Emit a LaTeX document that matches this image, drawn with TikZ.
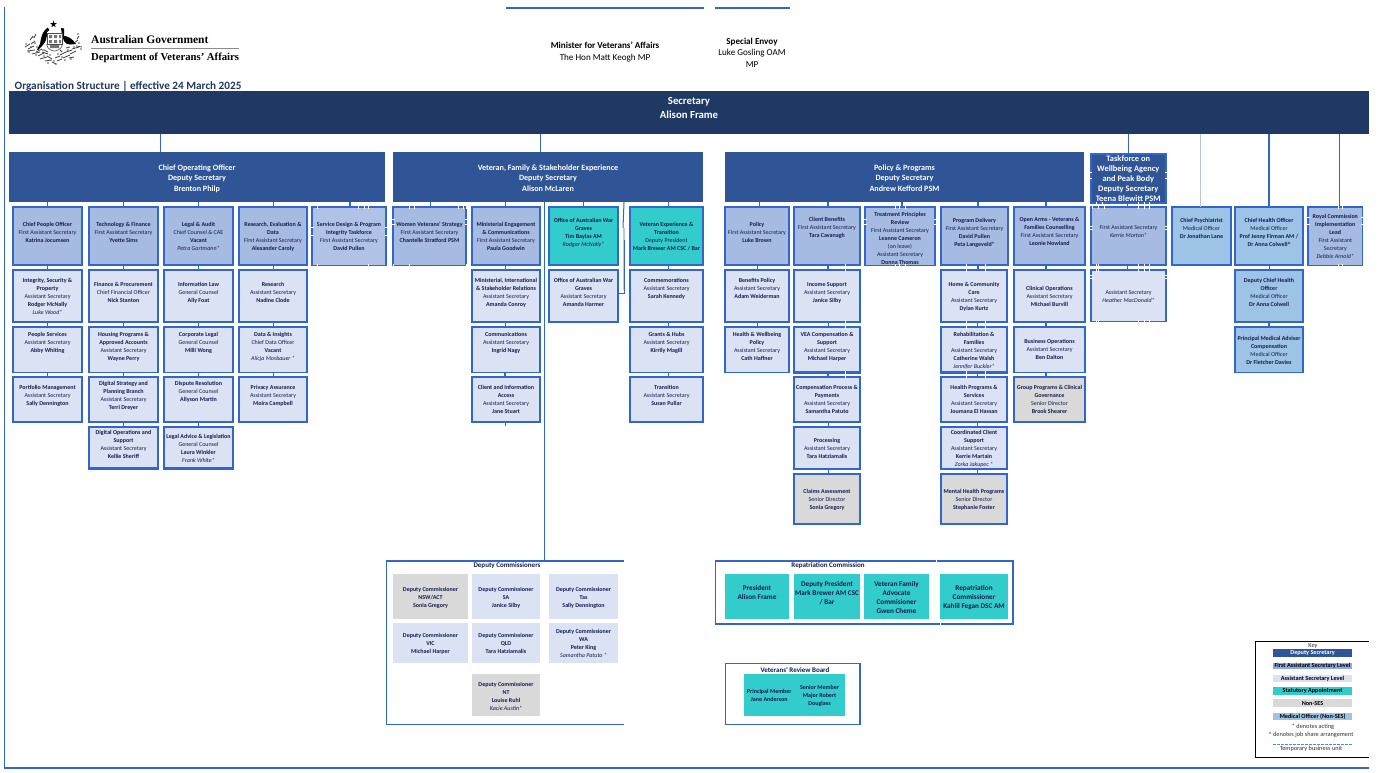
\documentclass[tikz,border=0pt]{standalone}
\usepackage{fontspec}
\setmainfont{Carlito}
\newfontfamily\serifhead{Liberation Serif}
\definecolor{lb}{HTML}{3366CC}
\definecolor{pale}{HTML}{B4C7E7}
\definecolor{navy}{HTML}{1F3864}
\definecolor{depb}{HTML}{2F5597}
\definecolor{fasf}{HTML}{A6BBE2}
\definecolor{tmpf}{HTML}{B0C3E6}
\definecolor{asf}{HTML}{DAE2F3}
\definecolor{statf}{HTML}{33CCCC}
\definecolor{nonf}{HTML}{D9D9D9}
\definecolor{medf}{HTML}{9DC3E6}
\definecolor{tx}{HTML}{141C50}
\newcommand\bx[8]{%
  \pgfmathsetlengthmacro\myBw{(#5-#3)*1pt}%
  \pgfmathsetlengthmacro\myBh{(#6-#4)*1pt}%
  \pgfmathsetmacro\myDy{#7-#4}%
  \node[#2,anchor=north west,inner sep=0pt,outer sep=0pt,minimum width=\myBw,minimum height=\myBh] (#1) at (#3,#4)
    {\parbox[c][\myBh][t]{\myBw}{\vspace*{\dimexpr\myDy pt+.25em+.9pt-.7\baselineskip\relax}\centering\strut #8\par}};}
\newcommand\dn[4][1]{\draw[cn,line width=#1pt] ([xshift=#4pt]#2.south) -- ([xshift=#4pt]#2.south |- #3.north);}
\newcommand\nv[3]{\foreach \xx in {#1}{\foreach \yy in {#2}{\draw[white,line width=.7pt] (\xx,\yy-#3) -- (\xx,\yy+#3);}}}
\newcommand\nh[3]{\foreach \yy in {#1}{\foreach \xx in {#2}{\draw[white,line width=.7pt] (\xx-#3,\yy) -- (\xx+#3,\yy);}}}
\newcommand\B[1]{\textbf{#1}}
\tikzset{
  x=1pt,y=-1pt,
  lbl/.style={font=\fontsize{6}{8}\selectfont,text=tx},
  thk/.style={line width=2.4pt},
  thn/.style={line width=1.6pt},
  fasb/.style={lbl,draw=lb,fill=fasf,thk},
  tmpb/.style={lbl,draw=lb,fill=tmpf,thn},
  asb/.style={lbl,draw=lb,fill=asf,thk},
  asn/.style={lbl,draw=lb,fill=asf,thn},
  statb/.style={lbl,draw=lb,fill=statf,thk},
  nonb/.style={lbl,draw=lb,fill=nonf,thk},
  medb/.style={lbl,draw=lb,fill=medf,thk},
  depbox/.style={fill=depb,font=\fontsize{8.1}{10.5}\selectfont,text=white},
  dc/.style={lbl,fill=asf},
  dg/.style={lbl,fill=nonf},
  rc/.style={fill=statf,font=\fontsize{7.2}{9}\selectfont,text=tx},
  vr/.style={lbl,fill=statf},
  cn/.style={draw=lb,line width=1pt},
  fr/.style={draw=lb,line width=1.8pt},
  keyb/.style={font=\fontsize{6.2}{7}\selectfont,text=black,inner sep=0pt,outer sep=0pt},
  keytx/.style={font=\fontsize{6.3}{7}\selectfont,text=black!80,inner sep=0pt},
  ttl/.style={font=\bfseries\fontsize{7}{8}\selectfont,text=tx,inner sep=0pt},
}
\begin{document}
\begin{tikzpicture}
\useasboundingbox (0,0) rectangle (1388,772);
\fill[white] (0,0) rectangle (1388,772);
% page frame
\draw[lb,line width=1.2pt] (4.5,7) -- (4.5,768) -- (1369,768);
\draw[lb,line width=1.6pt] (506,7.7) -- (704,7.7);
\draw[lb,line width=1.6pt] (715,7.7) -- (790,7.7);
% crest
\begin{scope}
 \fill[black] (53.5,20.5) -- (54.3,23) -- (57,23) -- (54.9,24.7) -- (55.6,27.2) -- (53.5,25.8) -- (51.4,27.2) -- (52.1,24.7) -- (50,23) -- (52.7,23) -- cycle;
 % kangaroo
 \fill[black] (47.5,27.5) -- (49.5,30) -- (47,32) .. controls (47,38) and (46,42) .. (42,46) -- (38,50) -- (37,49.5) -- (40,44) .. controls (41,38) and (42,33) .. (45,30) -- cycle;
 % emu
 \fill[black] (61,28) -- (64,28.5) -- (64,36) .. controls (67,36) and (72,38) .. (76,44) -- (71,44.5) -- (67,44) -- (64,41) -- (62,35) -- cycle;
 % shield
 \draw[black!70,line width=.6pt] (47,33) rectangle (62,44);
 \draw[black!70,line width=.6pt] (47,44) -- (47,46) .. controls (48,49) and (52,51) .. (54.5,51) .. controls (57,51) and (61,49) .. (62,46) -- (62,44);
 \fill[black!55] (49,35) rectangle (52,38) (54,35) rectangle (57,38) (59,35) rectangle (61,38) (49,40) rectangle (52,43) (54,40) rectangle (57,43) (59,40) rectangle (61,43) (50,45) rectangle (59,48);
 % foliage
 \foreach \a/\b/\c/\d in {25/47/30/44,28/49/34/46,31/44/35/41,30/40/33/36,34/38/36/34,27/51/35/50,36/52/42/49,32/54/40/52,38/56/44/53,42/52/48/54,40/59/47/57,47/56/52/59,45/61/52/60,55/58/60/56,57/61/62/59,60/55/66/52,63/58/70/55,66/52/72/50,70/54/76/51,72/49/79/47,76/46/82/47,74/43/78/40,77/39/79/36,69/58/74/57,52/62/56/64,48/52/44/50,66/48/70/47,62/52/60/50}
   {\draw[black!75,line width=.8pt] (\a,\b) -- (\c,\d);}
 \foreach \a/\b in {26/44,31/47,35/43,29/52,37/47,43/50,44/56,36/55,50/55,54/61,58/54,62/57,68/50,74/47,79/43,81/49,71/59,65/60,48/63,33/37,78/34,56/64}
   {\fill[black!65] (\a,\b) circle (.8);}
\end{scope}
\node[font=\serifhead\bfseries\fontsize{11.5}{12}\selectfont,anchor=west,inner sep=0pt] (ag) at (91,39.5) {Australian Government};
\node[font=\serifhead\bfseries\fontsize{10.7}{12}\selectfont,anchor=west,inner sep=0pt] (dva) at (91,58) {Department of Veterans’ Affairs};
\draw[black!45,line width=1pt] (91,48.5) -- (239,48.5);
\node[font=\bfseries\fontsize{11.2}{12}\selectfont,text=navy,anchor=west,inner sep=0pt] (org) at (14.5,86) {Organisation Structure | effective 24 March 2025};
% minister and envoy
\node[font=\fontsize{9.1}{11.6}\selectfont,align=center,inner sep=0pt,text=black] (min) at (605,52) {\B{Minister for Veterans' Affairs}\\The Hon Matt Keogh MP};
\node[font=\fontsize{9.1}{11.6}\selectfont,align=center,inner sep=0pt,text=black] (env) at (752,52.5) {\B{Special Envoy}\\Luke Gosling OAM\\MP};
% secretary
\bx{sec}{fill=navy,font=\bfseries\fontsize{10.8}{14}\selectfont,text=white}{9}{91}{1369}{134}{100.5}{Secretary\\Alison Frame}
% deputy secretaries
\bx{coo}{depbox}{9}{152}{385}{202}{167.5}{\B{Chief Operating Officer}\\\B{Deputy Secretary}\\\B{Brenton Philp}}
\bx{vfs}{depbox}{393}{152}{703}{202}{167.5}{\B{Veteran, Family \& Stakeholder Experience}\\\B{Deputy Secretary}\\\B{Alison McLaren}}
\bx{pol}{depbox}{725}{152}{1084}{202}{167.5}{\B{Policy \& Programs}\\\B{Deputy Secretary}\\\B{Andrew Kefford PSM}}
\bx{tfw}{depbox,draw=lb,line width=2pt,font=\fontsize{8.4}{10}\selectfont}{1090.5}{153.5}{1166}{203}{158}{\B{Taskforce on}\\\B{Wellbeing Agency}\\\B{and Peak Body}\\\B{Deputy Secretary}\\\B{Teena Blewitt PSM}}
% COO column 1
\bx{a1}{fasb}{13}{207}{82}{265}{224}{\B{Chief People Officer}\\First Assistant Secretary\\\B{Katrina Jocumsen}}
\bx{a2}{asb}{13}{270}{82}{322}{280}{\B{Integrity, Security \&}\\\B{Property}\\Assistant Secretary\\\B{Rodger McNally}\\\textit{Luke Wood*}}
\bx{a3}{asn}{13}{327}{82}{372.5}{334}{\B{People Services}\\Assistant Secretary\\\B{Abby Whiting}}
\bx{a4}{asb}{13}{377}{82}{422}{387}{\B{Portfolio Management}\\Assistant Secretary\\\B{Sally Dennington}}
% column 2
\bx{b1}{fasb}{89}{207}{158}{265}{224}{\B{Technology \& Finance}\\First Assistant Secretary\\\B{Yvette Sims}}
\bx{b2}{asb}{89}{270}{158}{322}{284}{\B{Finance \& Procurement}\\Chief Financial Officer\\\B{Nick Stanton}}
\bx{b3}{asn}{89}{327}{158}{372.5}{334}{\B{Housing Programs \&}\\\B{Approved Accounts}\\Assistant Secretary\\\B{Wayne Perry}}
\bx{b4}{asb}{89}{377}{158}{422}{383}{\B{Digital Strategy and}\\\B{Planning Branch}\\Assistant Secretary\\\B{Terri Dreyer}}
\bx{b5}{asb}{89}{427}{158}{468.5}{432}{\B{Digital Operations and}\\\B{Support}\\Assistant Secretary\\\B{Kellie Sheriff}}
% column 3
\bx{c1}{fasb}{164}{207}{233}{265}{224}{\B{Legal \& Audit}\\Chief Counsel \& CAE\\\B{Vacant}\\\textit{Petra Gartmann*}}
\bx{c2}{asb}{164}{270}{233}{322}{284}{\B{Information Law}\\General Counsel\\\B{Ally Foat}}
\bx{c3}{asn}{164}{327}{233}{372.5}{334}{\B{Corporate Legal}\\General Counsel\\\B{Milli Wong}}
\bx{c4}{asb}{164}{377}{233}{422}{383}{\B{Dispute Resolution}\\General Counsel\\\B{Allyson Martin}}
\bx{c5}{asb}{164}{427}{233}{468.5}{436}{\B{Legal Advice \& Legislation}\\General Counsel\\\B{Laura Winkler}\\\textit{Frank White*}}
% column 4
\bx{d1}{fasb}{239}{207}{307}{265}{224}{\B{Research, Evaluation \&}\\\B{Data}\\First Assistant Secretary\\\B{Alexander Caroly}}
\bx{d2}{asb}{239}{270}{307}{322}{284}{\B{Research}\\Assistant Secretary\\\B{Nadine Clode}}
\bx{d3}{asn}{239}{327}{307}{372.5}{334}{\B{Data \& Insights}\\Chief Data Officer\\\B{Vacant}\\\textit{Alicja Mosbauer *}}
\bx{d4}{asb}{239}{377}{307}{422}{387}{\B{Privacy Assurance}\\Assistant Secretary\\\B{Moira Campbell}}
% service design
\bx{e1}{tmpb}{312}{207}{386}{265.5}{224}{\B{Service Design \& Program}\\\B{Integrity Taskforce}\\First Assistant Secretary\\\B{David Pullen}}
% veteran
\bx{f1}{fasb,thn,draw=lb}{393}{207}{466}{265.5}{224}{\B{Women Veterans' Strategy}\\First Assistant Secretary\\\B{Chantelle Stratford PSM}}
\bx{g1}{fasb}{472}{207}{540}{265}{224}{\B{Ministerial Engagement}\\\B{\& Communications}\\First Assistant Secretary\\\B{Paula Goodwin}}
\bx{g2}{asb}{472}{270}{540}{322}{280}{\B{Ministerial, International}\\\B{\& Stakeholder Relations}\\Assistant Secretary\\\B{Amanda Conroy}}
\bx{g3}{asn}{472}{327}{540}{372.5}{334}{\B{Communications}\\Assistant Secretary\\\B{Ingrid Nagy}}
\bx{g4}{asb}{472}{377}{540}{422}{387}{\B{Client and Information}\\\B{Access}\\Assistant Secretary\\\B{Jane Stuart}}
\bx{h1}{statb}{549}{207}{618}{265}{220}{\B{Office of Australian War}\\\B{Graves}\\\B{Tim Baylas AM}\\\textit{Rodger McNally*}}
\bx{h2}{asb}{549}{270}{618}{322}{280}{\B{Office of Australian War}\\\B{Graves}\\Assistant Secretary\\\B{Amanda Harmer}}
\bx{i1}{statb}{630}{207}{703}{265}{224}{\B{Veteran Experience \&}\\\B{Transition}\\Deputy President\\\B{Mark Brewer AM CSC / Bar}}
\bx{i2}{asb}{630}{270}{703}{322}{280}{\B{Commemorations}\\Assistant Secretary\\\B{Sarah Kennedy}}
\bx{i3}{asn}{630}{327}{703}{372.5}{334}{\B{Grants \& Hubs}\\Assistant Secretary\\\B{Kirrily Magill}}
\bx{i4}{asb}{630}{377}{703}{422}{387}{\B{Transition}\\Assistant Secretary\\\B{Susan Pullar}}
% policy
\bx{j1}{fasb}{725}{207}{789}{265}{224}{\B{Policy}\\First Assistant Secretary\\\B{Luke Brown}}
\bx{j2}{asb}{725}{270}{789}{322}{280}{\B{Benefits Policy}\\Assistant Secretary\\\B{Adam Weiderman}}
\bx{j3}{asn}{725}{327}{789}{372.5}{334}{\B{Health \& Wellbeing}\\\B{Policy}\\Assistant Secretary\\\B{Cath Haffner}}
\bx{k1}{fasb}{794}{207}{860}{265}{219}{\B{Client Benefits}\\First Assistant Secretary\\\B{Tara Cavanagh}}
\bx{k2}{asb}{794}{270}{860}{322}{284}{\B{Income Support}\\Assistant Secretary\\\B{Janice Silby}}
\bx{k3}{asb}{794}{327}{860}{372.5}{334}{\B{VEA Compensation \&}\\\B{Support}\\Assistant Secretary\\\B{Michael Harper}}
\bx{k4}{asb}{794}{377}{860}{422}{387}{\B{Compensation Process \&}\\\B{Payments}\\Assistant Secretary\\\B{Samantha Patuto}}
\bx{k5}{asb}{794}{427}{860}{469}{440}{\B{Processing}\\Assistant Secretary\\\B{Tara Hatziamalis}}
\bx{k6}{nonb}{794}{474}{860}{524}{491}{\B{Claims Assessment}\\Senior Director\\\B{Sonia Gregory}}
\bx{l1}{fasb,thn}{865}{207}{935}{265.5}{214}{\B{Treatment Principles}\\\B{Review}\\First Assistant Secretary\\\B{Leanne Cameron}\\(on leave)\\Assistant Secretary\\\B{Donna Thomas}}
\bx{m1}{fasb}{941}{207}{1008}{265}{220}{\B{Program Delivery}\\First Assistant Secretary\\\B{David Pullen}\\\B{Peta Langeveld*}}
\bx{m2}{asb}{941}{270}{1007}{322}{284}{\B{Home \& Community}\\\B{Care}\\Assistant Secretary\\\B{Dylan Kurtz}}
\bx{m3}{asb}{941}{327}{1007}{372.5}{334}{\B{Rehabilitation \&}\\\B{Families}\\Assistant Secretary\\\B{Catherine Walsh}\\\textit{Jennifer Buckler*}}
\bx{m4}{asb}{941}{377}{1007}{422}{387}{\B{Health Programs \&}\\\B{Services}\\Assistant Secretary\\\B{Joumana El Hassan}}
\bx{m5}{asb}{941}{427}{1007}{469}{432}{\B{Coordinated Client}\\\B{Support}\\Assistant Secretary\\\B{Kerrie Martain}\\\textit{Zorka Jakupec *}}
\bx{m6}{nonb}{941}{474}{1007}{524}{491}{\B{Mental Health Programs}\\Senior Director\\\B{Stephanie Foster}}
% open arms
\bx{n1}{fasb}{1014}{207}{1085}{265}{219}{\B{Open Arms - Veterans \&}\\\B{Families Counselling}\\First Assistant Secretary\\\B{Leonie Nowland}}
\bx{n2}{asb}{1014}{270}{1085}{322}{288}{\B{Clinical Operations}\\Assistant Secretary\\\B{Michael Burvill}}
\bx{n3}{asn}{1014}{327}{1085}{372.5}{341}{\B{Business Operations}\\Assistant Secretary\\\B{Ben Dalton}}
\bx{n4}{nonb}{1014}{377}{1085}{422}{387}{\B{Group Programs \& Clinical}\\\B{Governance}\\Senior Director\\\B{Brook Shearer}}
% taskforce
\bx{o1}{fasb}{1091}{207}{1166}{265}{227}{First Assistant Secretary\\\textit{Kerrie Morton*}}
\bx{o2}{asb,thn}{1091}{270}{1166}{321.5}{292}{Assistant Secretary\\\textit{Heather MacDonald*}}
% medical
\bx{p1}{medb}{1172}{207}{1231}{265}{220}{\B{Chief Psychiatrist}\\Medical Officer\\\B{Dr Jonathan Lane}}
\bx{q1}{medb}{1235}{207}{1303}{265}{220}{\B{Chief Health Officer}\\Medical Officer\\\B{Prof Jenny Firman AM /}\\\B{Dr Anna Colwell\^{}}}
\bx{q2}{medb}{1235}{270}{1303}{322}{280}{\B{Deputy Chief Health}\\\B{Officer}\\Medical Officer\\\B{Dr Anna Colwell}}
\bx{q3}{medb,thn}{1235}{327}{1303}{372.5}{338}{\B{Principal Medical Adviser}\\\B{Compensation}\\Medical Officer\\\B{Dr Fletcher Davies}}
\bx{r1}{fasb,thn}{1308}{207}{1362.5}{265.5}{216}{\B{Royal Commission}\\\B{Implementation}\\\B{Lead}\\First Assistant\\Secretary\\\textit{Debbie Arnold*}}
% secretary connectors
\draw[cn] (sec.south -| 160,0) -- (coo.north -| 160,0);
\draw[cn] (sec.south -| 540,0) -- (vfs.north -| 540,0);
\draw[cn] (sec.south -| tfw.north) -- (tfw.north);
\draw[pale,line width=1.6pt] ([xshift=-1pt]sec.south -| p1.north) -- ([xshift=-1pt]p1.north);
\draw[cn,line width=1.6pt] (sec.south -| q1.north) -- (q1.north);
\draw[cn] (sec.south -| 1339,0) -- (r1.north -| 1339,0);
% deputy to first assistant connectors
\foreach \t/\s/\w in {a1/0/1.3,b1/0/1,c1/0/1,d1/0/1,e1/1/1.4}{\draw[cn,line width=\w pt] ([xshift=\s pt]\t.north |- coo.south) -- ([xshift=\s pt]\t.north);}
\foreach \t/\s/\w in {f1/1/1.6,g1/-1/1,h1/0/1.6,i1/2/1}{\draw[cn,line width=\w pt] ([xshift=\s pt]\t.north |- vfs.south) -- ([xshift=\s pt]\t.north);}
\foreach \t/\s/\w in {j1/2/1,k1/1/1.6,l1/2/1.6,m1/3.5/1.6,n1/-3.5/1.6}{\draw[cn,line width=\w pt] ([xshift=\s pt]\t.north |- pol.south) -- ([xshift=\s pt]\t.north);}
% column chains
\dn[1.6]{a1}{a2}{0}\dn[1.6]{a2}{a3}{0}\dn[1.6]{a3}{a4}{0}
\dn{b1}{b2}{0}\dn{b2}{b3}{0}\dn{b3}{b4}{0}\dn{b4}{b5}{0}
\dn{c1}{c2}{0}\dn{c2}{c3}{0}\dn{c3}{c4}{0}\dn{c4}{c5}{0}
\dn{d1}{d2}{0}\dn{d2}{d3}{0}\dn{d3}{d4}{0}
\dn{g1}{g2}{-1}\dn{g2}{g3}{-1}\dn[1.6]{g3}{g4}{-1}
\dn[1.6]{i1}{i2}{2}\dn[1.6]{i2}{i3}{2}\dn[1.6]{i3}{i4}{2}
\dn{j1}{j2}{0}\dn{j2}{j3}{0}
\dn[1.6]{k1}{k2}{1}\dn{k2}{k3}{1}\dn[1.6]{k3}{k4}{1}\dn{k4}{k5}{1}\dn{k5}{k6}{1}
\dn[1.6]{m1}{m2}{3.5}\dn[1.6]{m2}{m3}{3.5}\dn[1.6]{m3}{m4}{3.5}\dn[1.6]{m4}{m5}{3.5}\dn[1.6]{m5}{m6}{3.5}
\dn[1.6]{n1}{n2}{-3.5}\dn[1.6]{n2}{n3}{-3.5}\dn[1.6]{n3}{n4}{-3.5}
\dn{o1}{o2}{-1}\dn{tfw}{o1}{-1}
\dn{q1}{q2}{0}\dn[1.6]{q2}{q3}{0}
% long and side connectors
\coordinate (gfoot) at (505,426);
\draw[cn] ([xshift=-1pt]g4.south) -- ([xshift=-1pt]g4.south |- gfoot);
\draw[cn] (544,202) coordinate (dcs) -- (544,560) coordinate (dce);
\coordinate (ogTop) at (624,202);
\draw[pale,line width=1.8pt] (623.8,228) -- (623.8,290);
\draw[cn] (ogTop) -- (623,228);
\draw[cn,line width=.8pt] (624.7,240) -- (624.7,293) -- (h2.east |- 0,293);
% temporary-unit gaps
\nv{317,358,364,368}{207}{1.5}\nv{317,368}{265.5}{1.5}\nh{227,235}{312,386}{1.5}
\nv{409,414,458,463,466}{207}{1.5}\nv{393,409,466}{265.5}{1.5}\nh{219,224}{393,466}{1.5}
\nv{1092,1098,1104,1138,1144,1149}{207}{1.5}\nh{226,229}{1091,1166}{1.5}
\nv{1096,1098,1138,1144,1149}{265}{1.5}\nv{1096,1098,1138,1144,1149}{270}{1.5}\nv{1096,1098,1138,1144,1149}{321.5}{1.5}\nh{275,278}{1091,1166}{1.5}
\nh{172,178}{1090.5,1166}{1.5}\nv{1096,1102,1138,1144,1149}{203}{1.5}
\nv{1338,1342}{207}{1.5}\nv{1338,1342}{265.5}{1.5}\nh{217,224}{1308,1362.5}{1.5}
\nv{895,899,905}{207}{1.5}\nv{895,899,905}{265.5}{1.5}\nh{219,224}{865,935}{1.5}
\nv{845}{265,270,322,327,372.5,377}{1.5}\nv{966,985}{265,270,322,327,372.5,377}{1.5}
% deputy commissioners
\draw[fr] (624,561) -- (386.5,561) -- (386.5,724.5) -- (624,724.5);
\node[ttl] (dct) at (507,565.5) {Deputy Commissioners};
\bx{s1}{dg}{393}{574}{468}{619}{589}{\B{Deputy Commissioner}\\\B{NSW/ACT}\\\B{Sonia Gregory}}
\bx{s2}{dc}{472}{574}{540}{619}{589}{\B{Deputy Commissioner}\\\B{SA}\\\B{Janice Silby}}
\bx{s3}{dc}{549}{574}{618}{619}{589}{\B{Deputy Commissioner}\\\B{Tas}\\\B{Sally Dennington}}
\bx{s4}{dc}{393}{623}{468}{663}{635}{\B{Deputy Commissioner}\\\B{VIC}\\\B{Michael Harper}}
\bx{s5}{dc}{472}{623}{540}{663}{635}{\B{Deputy Commissioner}\\\B{QLD}\\\B{Tara Hatziamalis}}
\bx{s6}{dc}{549}{623}{618}{663}{631}{\B{Deputy Commissioner}\\\B{WA}\\\B{Peter King}\\\textit{Samantha Patuto *}}
\bx{s7}{dg}{472}{674}{540}{716}{684}{\B{Deputy Commissioner}\\\B{NT}\\\B{Louise Ruhl}\\\textit{Kacie Austin*}}
% repatriation commission
\draw[fr] (715.5,561) rectangle (1013,624);
\nv{936}{561}{1.5}\nv{940}{624}{1.5}
\node[ttl] (rct) at (828,565.5) {Repatriation Commission};
\bx{t1}{rc}{725}{574}{789}{619}{588}{\B{President}\\\B{Alison Frame}}
\bx{t2}{rc}{794}{574}{860}{619}{584}{\B{Deputy President}\\\B{Mark Brewer AM CSC}\\\B{/ Bar}}
\bx{t3}{rc}{864}{574}{929}{619}{584}{\B{Veteran Family}\\\B{Advocate}\\\B{Commisioner}\\\B{Gwen Cheme}}
\bx{t4}{rc}{940}{574}{1008}{619}{588}{\B{Repatriation}\\\B{Commissioner}\\\B{Kahlil Fegan DSC AM}}
% veterans' review board
\draw[fr] (725.5,663.5) rectangle (860,724.5);
\node[ttl] (vrt) at (795,669.5) {Veterans' Review Board};
\bx{u1}{vr}{744}{674}{794.5}{716}{691}{\B{Principal Member}\\\B{Jane Anderson}}
\bx{u2}{vr}{794}{674}{845}{716}{687}{\B{Senior Member}\\\B{Major Robert}\\\B{Douglass}}
% key
\draw[black,line width=.8pt] (1369,641.5) -- (1255.5,641.5) -- (1255.5,757) -- (1369,757);
\node[keytx] (kt) at (1313,646) {Key};
\node[keyb,fill=depb,text=white,minimum width=79pt,minimum height=8pt] (k1x) at (1312.5,653) {\B{Deputy Secretary}};
\node[keyb,fill=fasf!80!lb,minimum width=79pt,text height=4.5pt,text depth=1.5pt,minimum height=6.5pt] (k2x) at (1312.5,666) {\B{First Assistant Secretary Level}};
\node[keyb,fill=asf,minimum width=79pt,text height=4.5pt,text depth=1.5pt,minimum height=7pt] (k3x) at (1312.5,678.5) {\B{Assistant Secretary Level}};
\node[keyb,fill=statf,minimum width=79pt,minimum height=7.5pt] (k4x) at (1312.5,691) {\B{Statutory Appointment}};
\node[keyb,fill=nonf,minimum width=79pt,minimum height=8pt] (k5x) at (1312.5,703) {\B{Non-SES}};
\node[keyb,fill=medf,minimum width=79pt,minimum height=7pt] (k6x) at (1312.5,716.5) {\B{Medical Officer (Non-SES)}};
\node[keytx] (k7x) at (1313,727) {* denotes acting};
\node[keytx] (k8x) at (1311,734.5) {\^{} denotes job share arrangement};
\draw[lb!80,line width=.9pt,dash pattern=on 3pt off 1pt] (1273,744) -- (1352,744);
\node[keytx] (k9x) at (1311,749) {Temporary business unit};
\end{tikzpicture}
\end{document}
